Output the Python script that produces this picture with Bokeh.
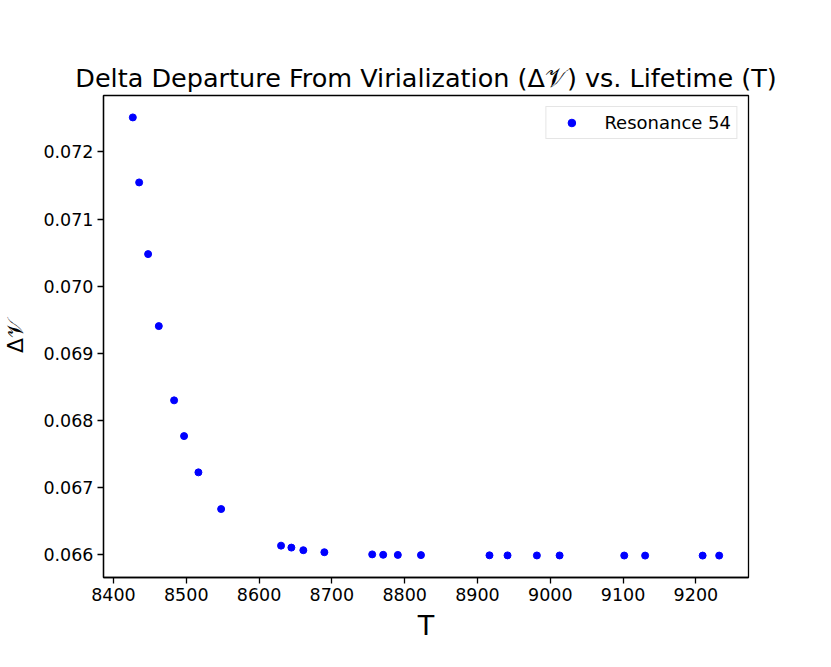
from bokeh.plotting import figure
from bokeh.models import Range1d, FixedTicker, PrintfTickFormatter
from bokeh.embed import file_html
from bokeh.resources import INLINE

# ---- data ----
lifetime_T = [8426.6, 8435.3, 8447.6, 8462.3, 8483.3, 8497.0, 8516.7, 8547.9,
              8630.2, 8644.4, 8660.8, 8689.7, 8755.4, 8770.5, 8790.6, 8822.4,
              8916.5, 8941.3, 8981.6, 9012.8, 9101.6, 9130.3, 9209.3, 9232.0]
delta_V = [0.072513, 0.071545, 0.070478, 0.069406, 0.068301, 0.067769, 0.067229, 0.066683,
           0.066138, 0.066109, 0.066070, 0.066040, 0.066008, 0.066002, 0.066000, 0.065997,
           0.065994, 0.065993, 0.065992, 0.065992, 0.065991, 0.065990, 0.065990, 0.065990]
series_name = "Resonance 54"
x_ticks = [8400, 8500, 8600, 8700, 8800, 8900, 9000, 9100, 9200]
y_ticks = [0.066, 0.067, 0.068, 0.069, 0.070, 0.071, 0.072]
title_text = "Delta Departure From Virialization (\u0394\U0001D4B1) vs. Lifetime (T)"
x_label = "T"
y_label = "\u0394\U0001D4B1"

# matplotlib-like 5% margins
def padded(vals, frac=0.05):
    lo, hi = min(vals), max(vals)
    d = (hi - lo) * frac
    return lo - d, hi + d

x0, x1 = padded(lifetime_T)
y0, y1 = padded(delta_V)

FONT = "DejaVu Sans"

p = figure(width=831, height=667, output_backend="svg", toolbar_location=None,
           x_range=Range1d(x0, x1), y_range=Range1d(y0, y1),
           min_border_left=103, min_border_right=83, min_border_top=95, min_border_bottom=90)

p.title.text = title_text
p.title.align = "center"
p.title.text_font = FONT
p.title.text_font_size = "25.5px"
p.title.text_font_style = "normal"
p.title.text_color = "black"
p.title.standoff = 6

p.scatter(lifetime_T, delta_V, size=7, color="blue", legend_label=series_name)

p.xgrid.visible = False
p.ygrid.visible = False
p.outline_line_color = "black"
p.outline_line_width = 1.3
p.outline_line_alpha = 1.0

for ax in (p.xaxis[0], p.yaxis[0]):
    ax.axis_line_color = "black"
    ax.axis_line_width = 1.3
    ax.major_tick_line_color = "black"
    ax.major_tick_line_width = 1.3
    ax.major_tick_in = 0
    ax.major_tick_out = 6
    ax.minor_tick_line_color = None
    ax.major_label_text_font = FONT
    ax.major_label_text_font_size = "17.5px"
    ax.major_label_text_color = "black"
    ax.axis_label_text_font = FONT
    ax.axis_label_text_font_style = "normal"
    ax.axis_label_text_color = "black"

p.xaxis[0].ticker = FixedTicker(ticks=x_ticks)
p.yaxis[0].ticker = FixedTicker(ticks=y_ticks)
p.yaxis[0].formatter = PrintfTickFormatter(format="%.3f")
p.xaxis[0].major_label_standoff = 4
p.yaxis[0].major_label_standoff = 4
p.xaxis[0].axis_label = x_label
p.xaxis[0].axis_label_text_font_size = "27px"
p.xaxis[0].axis_label_standoff = 6
p.yaxis[0].axis_label = y_label
p.yaxis[0].axis_label_text_font_size = "22px"
p.yaxis[0].axis_label_standoff = 12

lg = p.legend[0]
lg.location = "top_right"
lg.margin = 11
lg.padding = 5
lg.spacing = 0
lg.glyph_width = 40
lg.glyph_height = 19
lg.label_height = 19
lg.label_standoff = 13
lg.label_text_font = FONT
lg.label_text_font_size = "18px"
lg.label_text_color = "black"
lg.border_line_color = "#cccccc"
lg.border_line_width = 1
lg.background_fill_color = "white"
lg.background_fill_alpha = 0.8

open("out.html", "w").write(file_html(p, INLINE))
